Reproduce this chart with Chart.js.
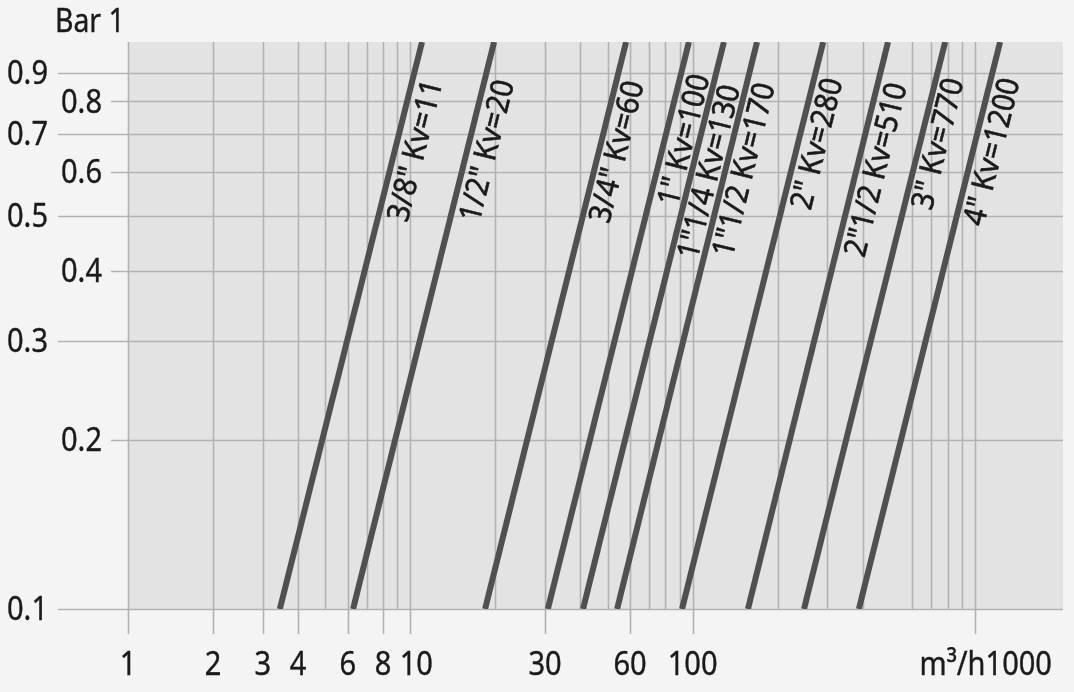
<!DOCTYPE html>
<html>
<head>
<meta charset="utf-8">
<script src="https://cdn.jsdelivr.net/npm/chart.js@4.4.0/dist/chart.umd.min.js"></script>
<style>
  html, body { margin: 0; padding: 0; background: #f4f4f4; }
</style>
</head>
<body>
<canvas id="myChart" width="1074" height="692"></canvas>
<script>
// valve sizes and their Kv lines (flow m3/h vs pressure drop bar, log-log)
const kvLabels = ['3/8" Kv=11', '1/2" Kv=20', '3/4" Kv=60', '1" Kv=100', '1"1/4 Kv=130',
                  '1"1/2 Kv=170', '2" Kv=280', '2"1/2 Kv=510', '3" Kv=770', '4" Kv=1200'];
const dpLow = 0.1;
const dpHigh = 1.02;
const flowAtLow  = [3.45, 6.27, 18.4, 30.7, 40.9, 54, 91.7, 157, 248, 388];
const flowAtHigh = [11.0, 19.8, 58.1, 97, 129, 169, 290, 492, 784, 1227];

// where each label sits (centre, in data units)
const labelFlow = [10.5, 18.85, 54.4, 94, 115.3, 153.3, 278, 450, 746, 1159];
const labelDp   = [0.653, 0.653, 0.650, 0.683, 0.599, 0.604, 0.672, 0.604, 0.672, 0.650];

const xGrid = [1, 2, 3, 4, 5, 6, 7, 8, 9, 10, 20, 30, 40, 50, 60, 70, 80, 90, 100,
               200, 300, 400, 600, 700, 800, 900, 1000];
const xTicks = [1, 2, 3, 4, 6, 8, 10, 30, 60, 100, 1000];
const xTickLabels = ['1', '2', '3', '4', '6', '8', '10', '30', '60', '100', 'm³/h1000'];
const yTicks = [0.1, 0.2, 0.3, 0.4, 0.5, 0.6, 0.7, 0.8, 0.9];
const yTickLabels = ['0.1', '0.2', '0.3', '0.4', '0.5', '0.6', '0.7', '0.8', '0.9'];

const FONT = '"Noto Sans", "Open Sans", sans-serif';
const GRID = '#b2b2b2';
const TEXT = '#1a1a1a';

// narrow text by squeezing it sideways (no condensed face installed),
// with a thin outline to make it a touch heavier
function squeezeText(ctx, txt, px, py, sx, ang) {
  ctx.save();
  ctx.translate(px, py);
  if (ang) ctx.rotate(ang);
  ctx.scale(sx, 1);
  ctx.fillText(txt, 0, 0);
  ctx.strokeText(txt, 0, 0);
  ctx.restore();
}

const datasets = kvLabels.map((lab, i) => ({
  label: lab,
  data: [{ x: flowAtLow[i], y: dpLow }, { x: flowAtHigh[i], y: dpHigh }],
  borderColor: '#505050',
  borderWidth: 6,
  borderCapStyle: 'butt',
  pointRadius: 0,
  showLine: true
}));

const chartDecor = {
  id: 'chartDecor',
  beforeDatasetsDraw(chart) {
    const { ctx, chartArea: a, scales: { x, y } } = chart;
    ctx.save();
    ctx.fillStyle = '#e3e3e3';
    ctx.fillRect(a.left, a.top, a.right - a.left, a.bottom - a.top);
    ctx.strokeStyle = GRID;
    ctx.lineWidth = 1.6;
    xGrid.forEach(v => {
      const px = Math.round(x.getPixelForValue(v)) + 0.5;
      const down = xTicks.includes(v) ? 25 : 0;
      ctx.beginPath();
      ctx.moveTo(px, a.top);
      ctx.lineTo(px, a.bottom + down);
      ctx.stroke();
    });
    yTicks.forEach((v, i) => {
      const py = Math.round(y.getPixelForValue(v)) + 0.5;
      const from = i % 2 === 0 ? 58 : 111;
      ctx.beginPath();
      ctx.moveTo(from, py);
      ctx.lineTo(a.right, py);
      ctx.stroke();
    });
    ctx.restore();
  },
  afterDatasetsDraw(chart) {
    const { ctx, scales: { x, y } } = chart;
    ctx.save();
    ctx.fillStyle = TEXT;
    ctx.strokeStyle = TEXT;
    ctx.lineWidth = 0.6;
    ctx.font = '31px ' + FONT;
    ctx.textAlign = 'center';
    ctx.textBaseline = 'middle';
    kvLabels.forEach((lab, i) => {
      const x1 = x.getPixelForValue(flowAtLow[i]), y1 = y.getPixelForValue(dpLow);
      const x2 = x.getPixelForValue(flowAtHigh[i]), y2 = y.getPixelForValue(dpHigh);
      const ang = Math.atan2(y2 - y1, x2 - x1);
      squeezeText(ctx, lab, x.getPixelForValue(labelFlow[i]), y.getPixelForValue(labelDp[i]), 0.93, ang);
    });

    // axis labels
    ctx.font = '33px ' + FONT;
    ctx.lineWidth = 0.4;
    xTicks.forEach((v, i) => {
      let px = x.getPixelForValue(v);
      if (v === 10) px += 6;
      if (v === 1000) {
        ctx.textAlign = 'right';
        px += 77;
      } else {
        ctx.textAlign = 'center';
      }
      squeezeText(ctx, xTickLabels[i], px, 666, 0.88);
    });
    ctx.textAlign = 'right';
    yTicks.forEach((v, i) => {
      const py = y.getPixelForValue(v);
      squeezeText(ctx, yTickLabels[i], i % 2 === 0 ? 48 : 102, py + 2, 0.88);
    });
    ctx.textAlign = 'left';
    ctx.textBaseline = 'alphabetic';
    squeezeText(ctx, 'Bar 1', 55, 32, 0.86);
    ctx.restore();
  }
};

const config = {
  type: 'scatter',
  data: { datasets: datasets },
  options: {
    responsive: false,
    animation: false,
    layout: { padding: { left: 128, right: 11, top: 42, bottom: 83 } },
    plugins: { legend: { display: false }, tooltip: { enabled: false } },
    scales: {
      x: { type: 'logarithmic', min: 1, max: 2050, display: false },
      y: { type: 'logarithmic', min: 0.1, max: 1.02, display: false }
    }
  },
  plugins: [chartDecor]
};

const myChart = new Chart(document.getElementById('myChart'), config);
</script>
</body>
</html>
